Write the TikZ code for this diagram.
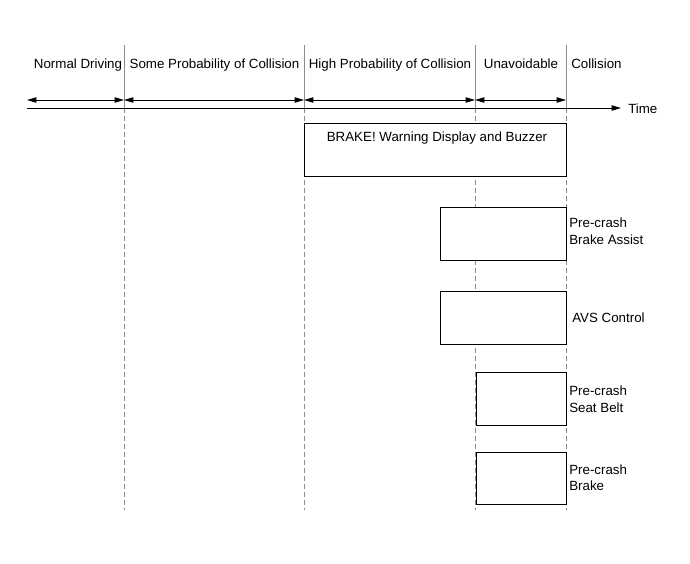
\documentclass[tikz,border=0pt]{standalone}
\usepackage{fontspec}
\setmainfont{Liberation Sans}
\usetikzlibrary{arrows.meta,fit}
\begin{document}
\begin{tikzpicture}[x=0.75pt,y=-0.75pt,
  font=\fontsize{10}{12.2}\selectfont,
  vsolid/.style={draw=black!45,line width=0.75pt},
  vdash/.style={draw=black!45,line width=0.75pt,dash pattern=on 3.5pt off 2.5pt},
  span/.style={line width=0.75pt,{Triangle[length=7pt,width=4pt]}-{Triangle[length=7pt,width=4pt]}},
  axis/.style={line width=0.75pt,-{Triangle[length=7pt,width=4pt]}},
  box/.style={draw,line width=0.75pt,inner sep=0pt,fill=white},
  phase/.style={inner sep=0pt,anchor=base},
  lbl/.style={inner sep=0pt,anchor=north west,align=left}
]
\useasboundingbox (0,0) rectangle (690,564);
% vertical lines
\foreach \n/\x in {1/124,2/304,3/475,4/566}{
  \coordinate (t\n) at (\x,45);
  \coordinate (a\n) at (\x,108);
  \coordinate (s\n) at (\x,100);
  \coordinate (b\n) at (\x,510);
  \draw[vsolid] (t\n) -- (a\n);
  \draw[vdash] (a\n) -- (b\n);
}
\coordinate (s0) at (27,100);
\coordinate (ax0) at (27,108);
\coordinate (ax1) at (621,108);
% phase labels
\node[phase] (p0) at (78,68) {Normal Driving};
\node[phase] (p1) at (214.5,68) {Some Probability of Collision};
\node[phase] (p2) at (390,68) {High Probability of Collision};
\node[phase] (p3) at (521,68) {Unavoidable};
\node[phase,anchor=base west] (p4) at (571,68) {Collision};
% spans
\draw[span] (s0) -- (s1);
\draw[span] (s1) -- (s2);
\draw[span] (s2) -- (s3);
\draw[span] (s3) -- (s4);
% time axis
\draw[axis] (ax0) -- (ax1);
\node[inner sep=0pt,anchor=west] (time) at (628,108.5) {Time};
% boxes
\node[box,fit={(304,123)(566,176)}] (brake) {};
\node[inner sep=0pt,anchor=base] (brakelbl) at (437,141) {BRAKE! Warning Display and Buzzer};
\node[box,fit={(440,207)(566,260.5)}] (ba) {};
\node[lbl] (balbl) at (569,218) {Pre-crash\\Brake Assist};
\node[box,fit={(440,291)(566,344)}] (avs) {};
\node[inner sep=0pt,anchor=west] (avslbl) at (572,317.5) {AVS Control};
\node[box,fit={(476,372)(566,425.5)}] (sb) {};
\node[lbl] (sblbl) at (569,386) {Pre-crash\\Seat Belt};
\node[box,fit={(476,452)(566,504)}] (pb) {};
\node[lbl] (pblbl) at (569,464.5) {Pre-crash\\Brake};
\end{tikzpicture}
\end{document}
